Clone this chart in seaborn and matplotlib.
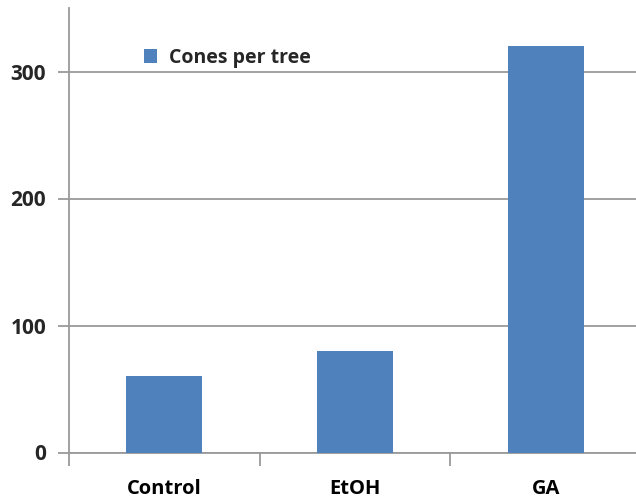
import matplotlib
matplotlib.use("Agg")
import matplotlib.pyplot as plt
import seaborn as sns
import pandas as pd

# Data
treatments = ["Control", "EtOH", "GA"]
cones_per_tree = [60, 80, 320]
series_name = "Cones per tree"
y_ticks = [0, 100, 200, 300]

df = pd.DataFrame({"treatment": treatments, "cones": cones_per_tree,
                   "series": [series_name] * len(treatments)})

sns.set_theme(style="white")
plt.rcParams["font.family"] = ["Open Sans", "DejaVu Sans"]

fig = plt.figure(figsize=(6.36, 5.0), dpi=100)
ax = fig.add_axes([69 / 636, 47.5 / 500, 572 / 636, 444.5 / 500])

bar_color = "#4F81BD"
grid_color = "#9a9a9a"

sns.barplot(data=df, x="treatment", y="cones", hue="series",
            palette=[bar_color], saturation=1, width=0.4, ax=ax, zorder=3,
            edgecolor="none")

ax.set_ylim(0, 350)
ax.set_xlim(-0.5, len(treatments) - 0.5)
ax.set_yticks(y_ticks)
ax.set_yticklabels([str(t) for t in y_ticks], fontsize=15, fontweight="bold")
ax.yaxis.grid(True, color=grid_color, linewidth=1.3, zorder=0)
ax.set_axisbelow(True)

# Category labels centered under bars, tick marks on category boundaries
ax.set_xticks(range(len(treatments)))
ax.set_xticklabels(treatments, fontsize=14.5, fontweight="bold")
ax.set_xticks([i + 0.5 for i in range(-1, len(treatments))], minor=True)
ax.tick_params(axis="x", which="major", length=0, pad=19, colors="black")
ax.tick_params(axis="x", which="minor", bottom=True, length=9, width=1.3,
               color=grid_color)
ax.tick_params(axis="y", which="major", left=True, length=8, width=1.3,
               color=grid_color, pad=8.5)

for side in ["top", "right"]:
    ax.spines[side].set_visible(False)
for side in ["left", "bottom"]:
    ax.spines[side].set_color(grid_color)
    ax.spines[side].set_linewidth(1.3)

ax.set_xlabel("")
ax.set_ylabel("")

leg = ax.legend(loc="upper left", bbox_to_anchor=(0.1, 0.95), frameon=False,
                handlelength=0.7, handleheight=0.7, handletextpad=0.6,
                prop={"weight": "bold", "size": 14})

fig.savefig("out.png", dpi=100)
